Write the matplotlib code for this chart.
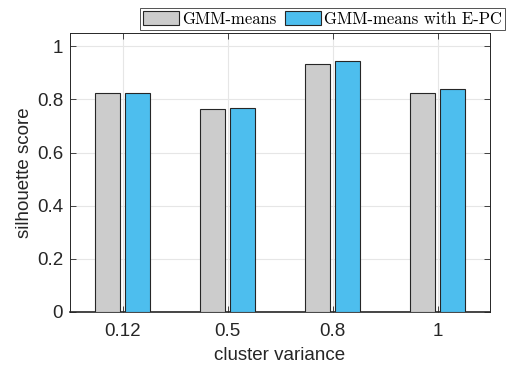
import numpy as np
import matplotlib
matplotlib.use("Agg")
import matplotlib.pyplot as plt

categories = ['0.12', '0.5', '0.8', '1']
gmm_means = [0.826, 0.763, 0.932, 0.825]
gmm_epc = [0.823, 0.767, 0.943, 0.840]
series_labels = ['GMM-means', 'GMM-means with E-PC']

plt.rcParams['font.family'] = ['Liberation Sans', 'DejaVu Sans']

fig = plt.figure(figsize=(5.13, 3.68), dpi=100)
ax = fig.add_axes([70/513, 1-312/368, 420/513, 279/368])

x = np.arange(1, len(categories)+1)
w = 0.23
off = 0.143
b1 = ax.bar(x-off, gmm_means, w, color='#cccccc', edgecolor='#262626', linewidth=0.8, label=series_labels[0], zorder=3)
b2 = ax.bar(x+off, gmm_epc, w, color='#4dbeee', edgecolor='#262626', linewidth=0.8, label=series_labels[1], zorder=3)

ax.set_xlim(0.5, 4.5)
ax.set_ylim(0, 1.05)
ax.set_xticks(x)
ax.set_xticklabels(categories)
ax.set_yticks([0, 0.2, 0.4, 0.6, 0.8, 1])
ax.set_yticklabels(['0', '0.2', '0.4', '0.6', '0.8', '1'])
ax.grid(True, color='#e6e6e6', linewidth=0.8, zorder=0)
ax.set_axisbelow(True)
ax.tick_params(direction='in', top=True, right=True, labelsize=13.5, colors='#262626', length=4, width=0.6)
ax.tick_params(axis='x', pad=8)
ax.tick_params(axis='y', pad=5)
for s in ax.spines.values():
    s.set_color('#262626')
    s.set_linewidth(0.7)
ax.spines['bottom'].set_linewidth(1.2)
ax.set_xlabel('cluster variance', fontsize=13.5, color='#262626', labelpad=5)
ax.set_ylabel('silhouette score', fontsize=13.5, color='#262626', labelpad=3)

leg = fig.legend(handles=[b1, b2], labels=series_labels, loc='upper right',
                 bbox_to_anchor=(505/513, 1-8/368), ncol=2, frameon=True, fancybox=False,
                 edgecolor='#262626', prop={'family': 'cmr10', 'size': 12},
                 handlelength=2.15, handleheight=0.84, handletextpad=0.15, columnspacing=0.55,
                 borderpad=0.2, borderaxespad=0)
leg.get_frame().set_linewidth(0.7)

fig.savefig('out.png', dpi=100)
